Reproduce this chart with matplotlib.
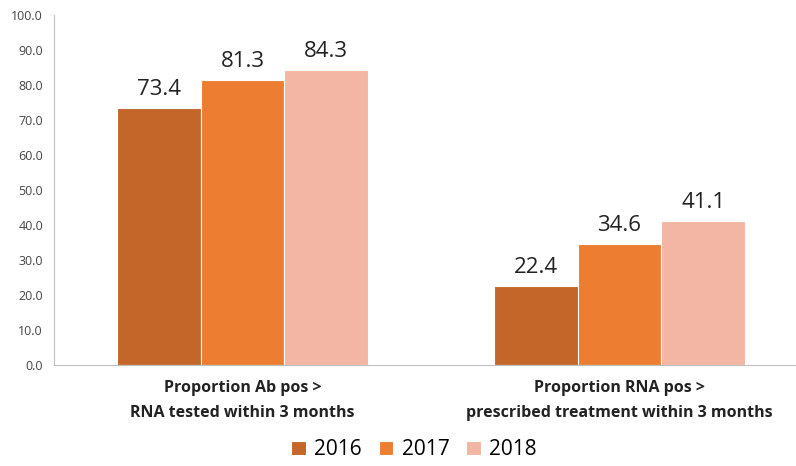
import numpy as np
import matplotlib.pyplot as plt

plt.rcParams['font.family'] = ['Open Sans', 'DejaVu Sans']

categories = ['Proportion Ab pos >\nRNA tested within 3 months',
              'Proportion RNA pos >\nprescribed treatment within 3 months']
years = ['2016', '2017', '2018']
values = {
    '2016': [73.4, 22.4],
    '2017': [81.3, 34.6],
    '2018': [84.3, 41.1],
}
colors = ['#C4662A', '#ED7D31', '#F4B6A4']

fig = plt.figure(figsize=(7.96, 4.66), dpi=100)
ax = fig.add_axes([0.068, 0.217, 0.947, 0.751])

x = np.arange(len(categories))
w = 0.222
for i, yr in enumerate(years):
    bars = ax.bar(x + (i - 1) * w, values[yr], w, color=colors[i],
                  edgecolor='white', linewidth=0.8, label=yr)
    for b, v in zip(bars, values[yr]):
        ax.text(b.get_x() + b.get_width() / 2, v + 2.3, f'{v:.1f}',
                ha='center', va='bottom', fontsize=16, color='#222222')

ax.set_xlim(-0.5, 1.5)
ax.set_ylim(0, 100)
ax.set_yticks(np.arange(0, 101, 10))
ax.set_yticklabels([f'{t:.1f}' for t in np.arange(0, 101, 10)], fontsize=9, color='#444444')
ax.set_xticks(x)
ax.set_xticklabels(categories, fontsize=11.5, fontweight='bold', color='#222222',
                   linespacing=1.75)
ax.tick_params(axis='y', length=0, pad=8)
ax.tick_params(axis='x', length=0, pad=11)
for s in ['top', 'right']:
    ax.spines[s].set_visible(False)
ax.spines['left'].set_color('#BFBFBF')
ax.spines['bottom'].set_color('#BFBFBF')

fig.legend(loc='lower center', bbox_to_anchor=(0.52, -0.028), ncol=3, frameon=False,
           fontsize=15, handlelength=0.7, handleheight=0.7, handletextpad=0.4,
           columnspacing=0.8)

fig.savefig('out.png', dpi=100)
